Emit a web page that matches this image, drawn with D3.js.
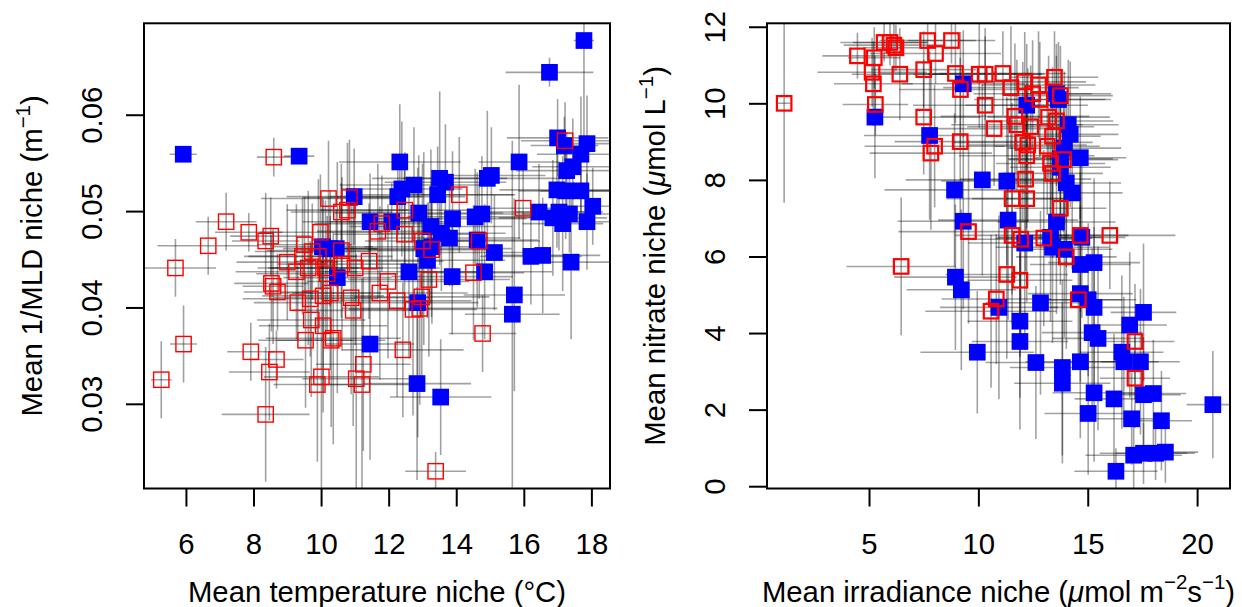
<!DOCTYPE html>
<meta charset="utf-8">
<style>
body { margin: 0; background: #fff; }
text { font-family: "Liberation Sans", Arial, Helvetica, sans-serif; fill: #000; }
</style>
<body>
<script src="https://d3js.org/d3.v7.min.js"></script>
<script>

// ---- Panel A: temperature niche vs 1/MLD niche ----
// blue (filled squares)
const aBlueX  = [5.92, 9.35, 17.78, 16.76, 12.33, 15.86, 17.00, 17.20, 17.87, 17.69, 17.27, 17.45, 10.98, 12.27, 12.39, 12.75, 13.51, 13.68, 13.45, 14.92, 15.04, 16.98, 17.24, 17.69, 18.04, 16.45, 17.04, 16.86, 17.15, 17.87, 17.35, 12.89, 12.09, 11.45, 13.89, 14.56, 14.76, 13.25, 13.56, 13.80, 14.62, 15.13, 13.04, 13.28, 13.15, 16.21, 16.56, 17.40, 12.60, 14.84, 13.88, 10.48, 10.04, 10.27, 10.45, 15.72, 15.66, 12.86, 11.45, 12.84, 13.54]
const aBlueY  = [0.0559, 0.0557, 0.0677, 0.0644, 0.0551, 0.0551, 0.0576, 0.0568, 0.0570, 0.0559, 0.0542, 0.0546, 0.0515, 0.0515, 0.0523, 0.0527, 0.0534, 0.0530, 0.0517, 0.0534, 0.0537, 0.0522, 0.0521, 0.0521, 0.0505, 0.0499, 0.0499, 0.0493, 0.0487, 0.0489, 0.0497, 0.0498, 0.0489, 0.0489, 0.0492, 0.0494, 0.0497, 0.0484, 0.0477, 0.0472, 0.0470, 0.0457, 0.0461, 0.0463, 0.0449, 0.0453, 0.0454, 0.0447, 0.0437, 0.0437, 0.0432, 0.0431, 0.0463, 0.0461, 0.0461, 0.0413, 0.0393, 0.0405, 0.0362, 0.0321, 0.0307]
const aBlueXe = [0.4, 0.45, 0.3, 1.3, 1.8, 1.2, 1.5, 1.0, 1.0, 1.3, 1.5, 1.2, 2.0, 2.0, 1.8, 2.2, 2.0, 1.8, 2.3, 2.5, 1.6, 1.7, 1.4, 1.2, 0.8, 1.5, 1.3, 1.6, 1.2, 1.0, 1.4, 2.5, 1.8, 2.0, 2.2, 2.0, 1.7, 2.4, 1.9, 2.1, 1.8, 1.6, 2.6, 2.0, 2.3, 1.5, 1.7, 1.2, 2.5, 2.0, 1.8, 1.6, 1.5, 1.4, 1.2, 1.5, 1.4, 1.8, 1.3, 1.6, 1.5]
const aBlueYe = [0.0005, 0.0005, 0.012, 0.0015, 0.006, 0.008, 0.004, 0.003, 0.005, 0.006, 0.004, 0.005, 0.005, 0.004, 0.007, 0.006, 0.009, 0.006, 0.005, 0.007, 0.005, 0.006, 0.005, 0.004, 0.004, 0.005, 0.004, 0.006, 0.007, 0.005, 0.004, 0.006, 0.004, 0.005, 0.007, 0.005, 0.006, 0.008, 0.006, 0.005, 0.007, 0.006, 0.010, 0.008, 0.006, 0.005, 0.006, 0.008, 0.009, 0.007, 0.006, 0.012, 0.005, 0.006, 0.004, 0.010, 0.018, 0.014, 0.012, 0.010, 0.006]
// red (open squares)
const aRedX  = [5.27, 5.69, 5.93, 6.66, 7.19, 7.86, 7.92, 8.36, 8.47, 8.68, 8.36, 8.51, 8.60, 8.53, 8.58, 8.71, 9.00, 9.27, 9.31, 9.51, 9.45, 9.74, 9.62, 9.68, 9.71, 9.54, 9.98, 9.92, 10.06, 10.13, 10.18, 10.06, 10.27, 10.36, 10.30, 9.89, 10.01, 10.22, 10.60, 10.78, 10.84, 10.60, 10.62, 10.89, 10.95, 11.01, 11.04, 11.21, 11.25, 11.42, 11.68, 11.80, 11.98, 11.74, 12.25, 12.42, 12.48, 12.47, 12.72, 12.98, 12.92, 13.19, 13.27, 13.39, 14.09, 14.51, 14.68, 14.78, 15.98, 17.22, 13.00]
const aRedY  = [0.0325, 0.0441, 0.0362, 0.0464, 0.0489, 0.0478, 0.0354, 0.0289, 0.0333, 0.0346, 0.0469, 0.0474, 0.0556, 0.0425, 0.0422, 0.0416, 0.0447, 0.0437, 0.0405, 0.0465, 0.0453, 0.0458, 0.0441, 0.0409, 0.0387, 0.0366, 0.0478, 0.0453, 0.0381, 0.0441, 0.0435, 0.0412, 0.0415, 0.0368, 0.0366, 0.0320, 0.0328, 0.0513, 0.0499, 0.0501, 0.0514, 0.0459, 0.0445, 0.0410, 0.0397, 0.0441, 0.0326, 0.0320, 0.0341, 0.0448, 0.0479, 0.0487, 0.0427, 0.0415, 0.0407, 0.0356, 0.0501, 0.0476, 0.0398, 0.0411, 0.0399, 0.0429, 0.0460, 0.0230, 0.0517, 0.0436, 0.0469, 0.0373, 0.0503, 0.0573, 0.0469]
const aRedXe = [0.3, 1.2, 0.4, 1.5, 0.9, 1.0, 0.7, 1.3, 1.2, 0.8, 1.0, 1.2, 0.5, 1.1, 0.9, 1.0, 1.5, 1.8, 1.3, 1.4, 1.6, 1.7, 1.5, 2.0, 1.6, 1.4, 1.8, 2.2, 1.9, 1.7, 2.1, 1.8, 1.5, 2.0, 1.6, 1.3, 1.7, 2.0, 1.5, 1.8, 1.4, 2.2, 1.9, 2.3, 1.8, 2.5, 1.6, 1.5, 1.4, 2.2, 1.8, 2.0, 2.4, 2.6, 2.2, 1.8, 2.5, 2.1, 1.9, 2.0, 2.3, 2.4, 1.9, 0.9, 1.6, 1.5, 1.8, 1.0, 1.2, 1.3, 1.7]
const aRedYe = [0.004, 0.003, 0.004, 0.003, 0.003, 0.002, 0.003, 0.007, 0.005, 0.003, 0.005, 0.004, 0.002, 0.005, 0.006, 0.004, 0.006, 0.007, 0.004, 0.005, 0.006, 0.005, 0.008, 0.006, 0.008, 0.007, 0.006, 0.008, 0.009, 0.007, 0.006, 0.010, 0.008, 0.011, 0.009, 0.008, 0.012, 0.006, 0.005, 0.007, 0.006, 0.007, 0.009, 0.010, 0.012, 0.008, 0.013, 0.011, 0.009, 0.006, 0.007, 0.005, 0.008, 0.009, 0.010, 0.007, 0.006, 0.008, 0.011, 0.009, 0.010, 0.008, 0.007, 0.002, 0.006, 0.007, 0.006, 0.004, 0.005, 0.004, 0.008]
const aXTicks = [6, 8, 10, 12, 14, 16, 18]
const aYTicks = [0.03, 0.04, 0.05, 0.06]

// ---- Panel B: irradiance niche vs nitrate niche ----
const bBlueX  = [5.27, 7.77, 9.31, 8.91, 9.31, 10.18, 11.30, 11.36, 12.12, 8.95, 9.22, 10.94, 11.90, 11.90, 9.95, 12.84, 12.63, 12.21, 13.57, 14.11, 14.20, 13.93, 13.75, 14.66, 14.02, 14.29, 13.57, 13.30, 13.39, 13.93, 14.73, 14.66, 15.29, 14.66, 15.02, 15.29, 15.20, 15.47, 14.66, 13.84, 13.84, 15.29, 15.02, 16.20, 16.92, 17.55, 16.56, 16.65, 17.41, 17.55, 18.00, 17.01, 18.37, 17.10, 17.55, 18.10, 18.55, 16.29, 20.72, 13.75, 13.66]
const bBlueY  = [9.64, 9.16, 10.51, 7.74, 6.92, 8.00, 7.97, 6.95, 6.35, 5.46, 5.13, 4.67, 4.31, 3.78, 3.50, 4.79, 3.23, 9.95, 10.25, 9.44, 9.19, 8.83, 8.55, 8.58, 7.92, 7.66, 6.90, 6.50, 6.24, 6.19, 6.50, 5.79, 5.84, 5.03, 4.87, 4.67, 4.01, 3.86, 3.25, 3.10, 2.69, 2.44, 1.90, 2.28, 4.21, 4.54, 3.50, 3.25, 3.25, 2.39, 2.42, 1.76, 1.71, 0.81, 0.86, 0.86, 0.89, 0.39, 2.13, 8.33, 10.10]
const bBlueXe = [0.3, 3.0, 2.8, 3.2, 3.0, 3.5, 3.0, 3.2, 2.6, 2.8, 2.5, 2.7, 2.4, 2.2, 2.6, 2.5, 2.3, 2.8, 2.5, 2.3, 2.2, 2.6, 2.4, 2.1, 2.5, 2.3, 2.7, 2.4, 2.6, 2.2, 2.0, 2.3, 2.1, 2.4, 2.2, 2.0, 2.3, 2.1, 2.5, 2.4, 2.2, 1.9, 2.0, 1.8, 1.7, 1.5, 1.9, 1.6, 1.8, 1.7, 1.5, 1.6, 1.4, 2.2, 2.0, 1.8, 1.5, 1.9, 1.2, 2.3, 2.4]
const bBlueYe = [1.6, 2.2, 1.4, 2.0, 2.3, 2.5, 2.2, 2.6, 2.8, 1.9, 2.1, 2.4, 2.0, 2.3, 1.6, 2.4, 2.0, 1.6, 1.3, 1.7, 1.9, 2.0, 1.8, 1.6, 2.2, 2.0, 2.4, 2.2, 2.5, 2.3, 2.1, 2.4, 2.2, 2.3, 2.0, 2.1, 2.2, 2.4, 2.0, 2.3, 2.1, 1.8, 1.6, 1.7, 1.9, 1.8, 2.0, 1.7, 1.9, 1.5, 1.4, 1.2, 1.3, 0.9, 0.8, 0.7, 0.8, 0.6, 1.4, 1.9, 1.5]
const bRedX  = [1.12, 4.47, 5.24, 5.14, 5.20, 5.29, 5.69, 5.96, 6.14, 6.23, 6.41, 6.47, 7.50, 7.50, 7.68, 8.04, 7.83, 8.00, 8.77, 8.95, 9.18, 9.17, 9.55, 10.04, 10.31, 10.31, 10.72, 10.58, 10.82, 11.12, 11.49, 11.30, 11.54, 11.54, 11.67, 11.76, 11.94, 11.90, 12.03, 12.12, 12.16, 12.21, 12.21, 12.26, 12.39, 12.75, 12.81, 12.99, 13.15, 13.21, 13.30, 13.39, 13.48, 13.57, 13.75, 13.75, 14.02, 13.89, 14.66, 14.57, 16.01, 17.16, 17.16, 12.48, 13.39]
const bRedY  = [10.00, 11.24, 11.19, 10.81, 10.51, 9.97, 11.59, 11.59, 11.52, 11.45, 10.76, 5.74, 10.88, 9.64, 11.64, 11.30, 8.70, 8.88, 11.64, 10.78, 10.36, 9.00, 6.65, 10.76, 10.76, 9.95, 9.34, 4.57, 4.89, 10.78, 10.41, 5.53, 7.51, 6.55, 9.66, 9.44, 6.45, 5.38, 8.98, 10.56, 8.02, 7.51, 8.63, 8.91, 9.39, 10.48, 10.10, 6.48, 8.88, 9.64, 8.43, 8.17, 10.68, 9.54, 10.20, 7.26, 5.99, 8.53, 6.55, 4.87, 6.55, 3.78, 2.82, 10.25, 9.14]
const bRedXe = [0.3, 1.6, 1.2, 2.5, 1.8, 1.5, 2.0, 1.7, 2.3, 1.5, 2.2, 2.5, 2.4, 2.6, 2.2, 3.0, 2.8, 3.2, 2.0, 3.5, 2.8, 3.0, 3.2, 3.0, 2.6, 3.3, 2.7, 3.0, 2.5, 2.9, 3.1, 2.8, 3.0, 2.6, 3.4, 3.0, 2.7, 2.4, 3.2, 2.8, 3.0, 2.5, 3.1, 2.7, 2.9, 2.6, 3.0, 2.2, 2.4, 2.8, 2.5, 2.3, 2.0, 2.6, 2.4, 2.1, 2.3, 2.5, 2.2, 2.0, 3.0, 1.8, 1.6, 2.7, 2.2]
const bRedYe = [2.6, 0.6, 0.8, 0.9, 1.1, 0.8, 0.5, 0.6, 0.7, 0.6, 1.2, 1.8, 1.0, 1.5, 0.5, 0.8, 2.0, 1.6, 0.6, 1.3, 1.5, 2.2, 2.4, 1.4, 1.2, 1.8, 1.5, 2.0, 1.7, 1.1, 1.6, 2.2, 2.5, 2.3, 1.9, 1.7, 2.6, 2.0, 2.1, 1.3, 2.4, 2.7, 1.9, 2.0, 1.6, 1.4, 1.5, 2.3, 1.8, 1.6, 2.1, 2.2, 1.2, 1.7, 1.3, 2.0, 2.4, 1.9, 2.0, 1.8, 1.4, 1.5, 1.3, 1.4, 1.8]
const bXTicks = [5, 10, 15, 20]
const bYTicks = [0, 2, 4, 6, 8, 10, 12]

const width = 1242
const height = 607
const fontSize = 29.3

const svg = d3.select("body")
	.append("svg")
	.attr("width", width)
	.attr("height", height)

// R style axis range: data range stretched by 4% each side
function rRange(values) {
	const [lo, hi] = d3.extent(values)
	const pad = (hi - lo) * 0.04
	return [lo - pad, hi + pad]
}

// write text made of pieces, some of them superscript or italic
function richText(sel, parts) {
	let shift = 0
	parts.forEach(p => {
		const ts = sel.append("tspan").text(p.t)
		if (p.sup) {
			ts.attr("font-size", fontSize * 0.7).attr("dy", -0.42 * fontSize)
			shift = 0.42 * fontSize
		} else if (shift) {
			ts.attr("dy", shift)
			shift = 0
		}
		if (p.it) ts.attr("font-style", "italic")
	})
}

function drawPanel(p) {
	const x = d3.scaleLinear()
		.domain(rRange(p.blueX.concat(p.redX)))
		.range([p.left, p.right])
	const y = d3.scaleLinear()
		.domain(rRange(p.blueY.concat(p.redY)))
		.range([p.bottom, p.top])

	const g = svg.append("g")

	g.append("clipPath").attr("id", p.id)
		.append("rect")
		.attr("x", p.left).attr("y", p.top)
		.attr("width", p.right - p.left).attr("height", p.bottom - p.top)

	// error bars for both groups
	const bars = []
	p.blueX.forEach((v, i) => bars.push([v, p.blueY[i], p.blueXe[i], p.blueYe[i]]))
	p.redX.forEach((v, i) => bars.push([v, p.redY[i], p.redXe[i], p.redYe[i]]))

	const eg = g.append("g")
		.attr("clip-path", `url(#${p.id})`)
		.attr("stroke", "rgba(0,0,0,0.37)")
		.attr("stroke-width", 1.6)

	eg.selectAll("line.h")
		.data(bars)
		.enter()
		.append("line")
		.attr("x1", d => x(d[0] - d[2]))
		.attr("x2", d => x(d[0] + d[2]))
		.attr("y1", d => y(d[1]))
		.attr("y2", d => y(d[1]))

	eg.selectAll("line.v")
		.data(bars)
		.enter()
		.append("line")
		.attr("x1", d => x(d[0]))
		.attr("x2", d => x(d[0]))
		.attr("y1", d => y(d[1] - d[3]))
		.attr("y2", d => y(d[1] + d[3]))

	// filled blue squares
	const s = 16.7
	g.append("g")
		.selectAll("rect")
		.data(p.blueX)
		.enter()
		.append("rect")
		.attr("x", (d, i) => x(d) - s / 2)
		.attr("y", (d, i) => y(p.blueY[i]) - s / 2)
		.attr("width", s)
		.attr("height", s)
		.style("fill", "#0000ff")

	// open red squares
	const r = s - p.redStroke
	g.append("g")
		.selectAll("rect")
		.data(p.redX)
		.enter()
		.append("rect")
		.attr("x", (d, i) => x(d) - r / 2)
		.attr("y", (d, i) => y(p.redY[i]) - r / 2)
		.attr("width", r)
		.attr("height", r)
		.style("fill", "none")
		.style("stroke", "#ff0000")
		.style("stroke-width", p.redStroke)

	// box
	g.append("rect")
		.attr("x", p.left).attr("y", p.top)
		.attr("width", p.right - p.left).attr("height", p.bottom - p.top)
		.attr("fill", "none").attr("stroke", "#000").attr("stroke-width", 2)

	// axes
	const ax = g.append("g")
		.attr("transform", `translate(0,${p.bottom})`)
		.call(d3.axisBottom(x).tickValues(p.xTicks).tickSize(18).tickFormat(d3.format("d")))
	ax.select(".domain").remove()
	ax.selectAll("line").attr("stroke-width", 2)
	ax.selectAll("text")
		.attr("y", 65).attr("dy", null)
		.attr("font-size", fontSize).attr("font-family", null)

	const ay = g.append("g")
		.attr("transform", `translate(${p.left},0)`)
		.call(d3.axisLeft(y).tickValues(p.yTicks).tickSize(18).tickFormat(p.yFormat))
	ay.select(".domain").remove()
	ay.selectAll("line").attr("stroke-width", 2)
	ay.selectAll("text")
		.attr("x", null).attr("dy", null)
		.attr("text-anchor", "middle")
		.attr("transform", "translate(-42,0) rotate(-90)")
		.attr("font-size", fontSize).attr("font-family", null)

	// axis titles
	const xt = g.append("text")
		.attr("x", (p.left + p.right) / 2)
		.attr("y", p.bottom + 113)
		.attr("text-anchor", "middle")
		.attr("font-size", fontSize)
	richText(xt, p.xTitle)

	const yt = g.append("text")
		.attr("transform", `translate(${p.left - 102},${(p.top + p.bottom) / 2}) rotate(-90)`)
		.attr("text-anchor", "middle")
		.attr("font-size", fontSize)
	richText(yt, p.yTitle)
}

drawPanel({
	id: "clipA", left: 144, right: 610, top: 23.3, bottom: 488.5,
	blueX: aBlueX, blueY: aBlueY, blueXe: aBlueXe, blueYe: aBlueYe,
	redX: aRedX, redY: aRedY, redXe: aRedXe, redYe: aRedYe,
	redStroke: 1.4,
	xTicks: aXTicks, yTicks: aYTicks, yFormat: d3.format(".2f"),
	xTitle: [{t: "Mean temperature niche (°C)"}],
	yTitle: [{t: "Mean 1/MLD niche (m"}, {t: "\u22121", sup: true}, {t: ")"}]
})

drawPanel({
	id: "clipB", left: 767, right: 1230, top: 23.3, bottom: 488.5,
	blueX: bBlueX, blueY: bBlueY, blueXe: bBlueXe, blueYe: bBlueYe,
	redX: bRedX, redY: bRedY, redXe: bRedXe, redYe: bRedYe,
	redStroke: 2.2,
	xTicks: bXTicks, yTicks: bYTicks, yFormat: d3.format("d"),
	xTitle: [{t: "Mean irradiance niche ("}, {t: "\u03bc", it: true}, {t: "mol m"}, {t: "\u22122", sup: true}, {t: "s"}, {t: "\u22121", sup: true}, {t: ")"}],
	yTitle: [{t: "Mean nitrate niche ("}, {t: "\u03bc", it: true}, {t: "mol L"}, {t: "\u22121", sup: true}, {t: ")"}]
})

</script>
</body>
</html>
